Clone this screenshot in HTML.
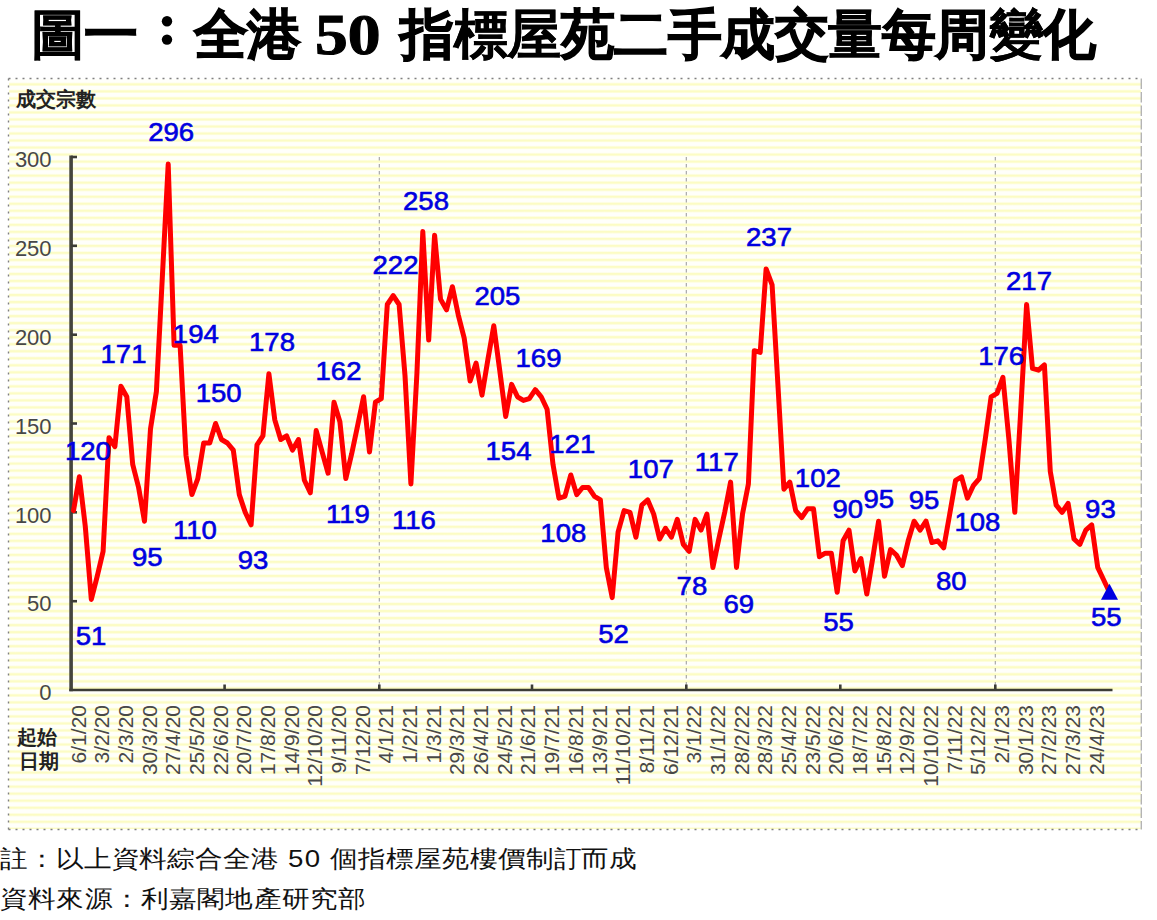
<!DOCTYPE html>
<html><head><meta charset="utf-8">
<style>
html,body{margin:0;padding:0;background:#fff;}
body{width:1157px;height:920px;position:relative;overflow:hidden;font-family:"Liberation Sans",sans-serif;}
.tt{position:absolute;top:2px;white-space:nowrap;font-family:"Liberation Serif",serif;font-weight:900;font-size:54px;line-height:66px;color:#000;-webkit-text-stroke:1.1px #000;}
#chart{position:absolute;left:0;top:0;}
.lt{-webkit-text-stroke:0.3px #000;}
.foot{position:absolute;left:0;white-space:nowrap;font-size:24px;letter-spacing:0px;color:#111;transform-origin:0 0;transform:scaleX(1.15);}
</style></head><body>
<div class="tt" style="left:31px;letter-spacing:-0.6px"><span class="lt">圖</span>一</div>
<div class="tt" style="left:194px;letter-spacing:-0.6px">全港</div>
<div class="tt" style="left:315px;top:2px;font-size:58px;transform-origin:0 0;transform:scaleX(1.13)">50</div>
<div class="tt" style="left:400px;letter-spacing:-0.5px">指<span class="lt">標屋</span>苑二手成交<span class="lt">量</span>每周<span class="lt">變</span>化</div>
<svg id="chart" width="1157" height="920" viewBox="0 0 1157 920">
<defs>
<linearGradient id="sg" x1="0" y1="0" x2="0" y2="1">
<stop offset="0.02" stop-color="#fffffa"/><stop offset="0.15" stop-color="#fcfcc4"/><stop offset="0.37" stop-color="#fcfcc4"/><stop offset="0.52" stop-color="#fffffa"/><stop offset="1" stop-color="#fffffa"/>
</linearGradient>
<pattern id="stripes" x="0" y="82.5" width="20" height="7.023" patternUnits="userSpaceOnUse">
<rect width="20" height="7.023" fill="url(#sg)"/>
</pattern>
</defs>
<rect x="9" y="79" width="1132" height="750" fill="url(#stripes)"/>
<circle cx="167" cy="21.3" r="5.2" fill="#000"/><circle cx="167" cy="39.6" r="5.2" fill="#000"/>
<g stroke="#808080" stroke-width="1.4" stroke-dasharray="2 5" fill="none">
<line x1="8.5" y1="78.5" x2="1141.5" y2="78.5"/>
<line x1="8.5" y1="78.5" x2="8.5" y2="829.5"/>
<line x1="8.5" y1="829.5" x2="1141.5" y2="829.5"/>
</g>
<line x1="1141.3" y1="78.5" x2="1141.3" y2="829.5" stroke="#b4b4b4" stroke-width="1.4" stroke-dasharray="10.5 3"/>
<text x="16" y="106" font-size="20" font-weight="bold" fill="#222">成交宗數</text>
<g font-size="22" fill="#474747" text-anchor="end">
<text x="51.6" y="700.2">0</text>
<text x="51.6" y="611.3">50</text>
<text x="51.6" y="522.5">100</text>
<text x="51.6" y="433.7">150</text>
<text x="51.6" y="344.8">200</text>
<text x="51.6" y="256.0">250</text>
<text x="51.6" y="167.2">300</text>
</g>
<g stroke="#a0a0a0" stroke-width="1.1" stroke-dasharray="3.5 3.5">
<line x1="379.3" y1="157" x2="379.3" y2="690"/>
<line x1="686.3" y1="157" x2="686.3" y2="690"/>
<line x1="995.3" y1="157" x2="995.3" y2="690"/>
</g>
<g stroke="#3c3c36" stroke-width="2.6" fill="none">
<line x1="71.1" y1="155.5" x2="71.1" y2="691.3" stroke-width="3.6" stroke="#45453d"/>
<line x1="69.3" y1="690" x2="1112.5" y2="690"/>
<line x1="71" y1="601.2" x2="77" y2="601.2"/>
<line x1="71" y1="512.3" x2="77" y2="512.3"/>
<line x1="71" y1="423.5" x2="77" y2="423.5"/>
<line x1="71" y1="334.7" x2="77" y2="334.7"/>
<line x1="71" y1="245.8" x2="77" y2="245.8"/>
<line x1="71" y1="157.0" x2="77" y2="157.0"/>
<line x1="379.3" y1="684.5" x2="379.3" y2="690"/>
<line x1="686.3" y1="684.5" x2="686.3" y2="690"/>
<line x1="995.3" y1="684.5" x2="995.3" y2="690"/>
<line x1="224.6" y1="684.5" x2="224.6" y2="690"/>
<line x1="532" y1="684.5" x2="532" y2="690"/>
<line x1="840.3" y1="684.5" x2="840.3" y2="690"/>
</g>
<polyline points="73.5,510.6 79.4,476.8 85.3,526.5 91.3,599.4 97.2,576.3 103.1,551.4 109.0,437.7 114.9,446.6 120.9,386.2 126.8,396.8 132.7,464.4 138.6,487.5 144.5,521.2 150.5,428.8 156.4,391.5 162.3,277.8 168.2,164.1 174.1,345.3 180.1,345.3 186.0,455.5 191.9,494.6 197.8,478.6 203.7,443.0 209.7,443.0 215.6,423.5 221.5,439.5 227.4,443.0 233.3,450.1 239.3,494.6 245.2,512.3 251.1,524.8 257.0,444.8 262.9,435.9 268.9,373.7 274.8,419.9 280.7,439.5 286.6,435.9 292.5,450.1 298.5,439.5 304.4,480.3 310.3,492.8 316.2,430.6 322.1,451.9 328.1,473.2 334.0,402.2 339.9,421.7 345.8,478.6 351.7,453.7 357.7,425.3 363.6,396.8 369.5,451.9 375.4,402.2 381.3,398.6 387.3,304.5 393.2,295.6 399.1,304.5 405.0,375.5 410.9,483.9 416.9,373.7 422.8,231.6 428.7,340.0 434.6,235.2 440.5,299.1 446.5,309.8 452.4,286.7 458.3,315.1 464.2,338.2 470.1,380.9 476.1,363.1 482.0,395.1 487.9,359.5 493.8,325.8 499.7,370.2 505.7,416.4 511.6,384.4 517.5,396.8 523.4,400.4 529.3,398.6 535.3,389.7 541.2,396.8 547.1,409.3 553.0,464.4 558.9,498.1 564.9,496.3 570.8,475.0 576.7,494.6 582.6,487.5 588.5,487.5 594.5,496.3 600.4,499.9 606.3,567.4 612.2,597.6 618.1,531.9 624.1,510.6 630.0,512.3 635.9,537.2 641.8,505.2 647.7,499.9 653.7,514.1 659.6,539.0 665.5,528.3 671.4,537.2 677.3,519.4 683.3,544.3 689.2,551.4 695.1,519.4 701.0,530.1 706.9,514.1 712.9,567.4 718.8,539.0 724.7,512.3 730.6,482.1 736.5,567.4 742.5,514.1 748.4,483.9 754.3,350.7 760.2,352.4 766.1,268.9 772.1,284.9 778.0,386.2 783.9,489.2 789.8,482.1 795.7,510.6 801.7,517.7 807.6,508.8 813.5,508.8 819.4,556.7 825.3,553.2 831.3,553.2 837.2,592.3 843.1,540.8 849.0,530.1 854.9,571.0 860.9,558.5 866.8,594.1 872.7,558.5 878.6,521.2 884.5,576.3 890.5,549.6 896.4,555.0 902.3,565.6 908.2,540.8 914.1,521.2 920.1,530.1 926.0,521.2 931.9,542.5 937.8,540.8 943.7,547.9 949.7,514.1 955.6,480.3 961.5,476.8 967.4,498.1 973.3,485.7 979.3,478.6 985.2,439.5 991.1,396.8 997.0,393.3 1002.9,377.3 1008.9,439.5 1014.8,512.3 1020.7,411.1 1026.6,304.5 1032.5,368.4 1038.5,370.2 1044.4,364.9 1050.3,471.5 1056.2,505.2 1062.1,512.3 1068.1,503.4 1074.0,539.0 1079.9,544.3 1085.8,530.1 1091.7,524.8 1097.7,567.4 1103.6,579.8 1109.5,592.3" fill="none" stroke="#ff0000" stroke-width="5" stroke-linejoin="round" stroke-linecap="round"/>
<g font-size="25.5" fill="#0000e0" stroke="#0000e0" stroke-width="0.6" text-anchor="middle">
<text x="0" y="0" transform="translate(87.9,460.1) scale(1.08,1)">120</text>
<text x="0" y="0" transform="translate(91.1,644.5) scale(1.08,1)">51</text>
<text x="0" y="0" transform="translate(123.5,363.1) scale(1.08,1)">171</text>
<text x="0" y="0" transform="translate(147.2,565.5) scale(1.08,1)">95</text>
<text x="0" y="0" transform="translate(171.1,140.7) scale(1.08,1)">296</text>
<text x="0" y="0" transform="translate(195.8,342.8) scale(1.08,1)">194</text>
<text x="0" y="0" transform="translate(195.0,538.5) scale(1.08,1)">110</text>
<text x="0" y="0" transform="translate(218.7,402.1) scale(1.08,1)">150</text>
<text x="0" y="0" transform="translate(253.0,569.1) scale(1.08,1)">93</text>
<text x="0" y="0" transform="translate(272.0,351.1) scale(1.08,1)">178</text>
<text x="0" y="0" transform="translate(338.5,379.9) scale(1.08,1)">162</text>
<text x="0" y="0" transform="translate(348.0,523.3) scale(1.08,1)">119</text>
<text x="0" y="0" transform="translate(414.0,529.1) scale(1.08,1)">116</text>
<text x="0" y="0" transform="translate(395.5,273.5) scale(1.08,1)">222</text>
<text x="0" y="0" transform="translate(426.0,210.1) scale(1.08,1)">258</text>
<text x="0" y="0" transform="translate(497.4,304.6) scale(1.08,1)">205</text>
<text x="0" y="0" transform="translate(508.5,459.8) scale(1.08,1)">154</text>
<text x="0" y="0" transform="translate(538.5,367.1) scale(1.08,1)">169</text>
<text x="0" y="0" transform="translate(563.3,542.4) scale(1.08,1)">108</text>
<text x="0" y="0" transform="translate(572.3,453.4) scale(1.08,1)">121</text>
<text x="0" y="0" transform="translate(613.6,642.8) scale(1.08,1)">52</text>
<text x="0" y="0" transform="translate(650.8,478.0) scale(1.08,1)">107</text>
<text x="0" y="0" transform="translate(691.9,594.9) scale(1.08,1)">78</text>
<text x="0" y="0" transform="translate(716.8,471.1) scale(1.08,1)">117</text>
<text x="0" y="0" transform="translate(738.8,613.0) scale(1.08,1)">69</text>
<text x="0" y="0" transform="translate(769.0,246.4) scale(1.08,1)">237</text>
<text x="0" y="0" transform="translate(817.8,487.0) scale(1.08,1)">102</text>
<text x="0" y="0" transform="translate(838.6,630.9) scale(1.08,1)">55</text>
<text x="0" y="0" transform="translate(847.7,517.9) scale(1.08,1)">90</text>
<text x="0" y="0" transform="translate(878.7,507.6) scale(1.08,1)">95</text>
<text x="0" y="0" transform="translate(924.0,508.9) scale(1.08,1)">95</text>
<text x="0" y="0" transform="translate(951.3,590.2) scale(1.08,1)">80</text>
<text x="0" y="0" transform="translate(977.4,530.8) scale(1.08,1)">108</text>
<text x="0" y="0" transform="translate(1001.2,365.4) scale(1.08,1)">176</text>
<text x="0" y="0" transform="translate(1029.0,289.9) scale(1.08,1)">217</text>
<text x="0" y="0" transform="translate(1100.4,518.3) scale(1.08,1)">93</text>
<text x="0" y="0" transform="translate(1106.2,625.9) scale(1.08,1)">55</text>
</g>
<polygon points="1109.5,583.8 1101.0,599.8 1118.0,599.8" fill="#0000e0"/>
<g font-size="21" fill="#484848" text-anchor="end">
<text transform="translate(85.5,705) rotate(-90)">6/1/20</text>
<text transform="translate(109.2,705) rotate(-90)">3/2/20</text>
<text transform="translate(132.9,705) rotate(-90)">2/3/20</text>
<text transform="translate(156.6,705) rotate(-90)">30/3/20</text>
<text transform="translate(180.2,705) rotate(-90)">27/4/20</text>
<text transform="translate(203.9,705) rotate(-90)">25/5/20</text>
<text transform="translate(227.6,705) rotate(-90)">22/6/20</text>
<text transform="translate(251.3,705) rotate(-90)">20/7/20</text>
<text transform="translate(275.0,705) rotate(-90)">17/8/20</text>
<text transform="translate(298.6,705) rotate(-90)">14/9/20</text>
<text transform="translate(322.3,705) rotate(-90)">12/10/20</text>
<text transform="translate(346.0,705) rotate(-90)">9/11/20</text>
<text transform="translate(369.7,705) rotate(-90)">7/12/20</text>
<text transform="translate(393.4,705) rotate(-90)">4/1/21</text>
<text transform="translate(417.0,705) rotate(-90)">1/2/21</text>
<text transform="translate(440.7,705) rotate(-90)">1/3/21</text>
<text transform="translate(464.4,705) rotate(-90)">29/3/21</text>
<text transform="translate(488.1,705) rotate(-90)">26/4/21</text>
<text transform="translate(511.8,705) rotate(-90)">24/5/21</text>
<text transform="translate(535.4,705) rotate(-90)">21/6/21</text>
<text transform="translate(559.1,705) rotate(-90)">19/7/21</text>
<text transform="translate(582.8,705) rotate(-90)">16/8/21</text>
<text transform="translate(606.5,705) rotate(-90)">13/9/21</text>
<text transform="translate(630.2,705) rotate(-90)">11/10/21</text>
<text transform="translate(653.8,705) rotate(-90)">8/11/21</text>
<text transform="translate(677.5,705) rotate(-90)">6/12/21</text>
<text transform="translate(701.2,705) rotate(-90)">3/1/22</text>
<text transform="translate(724.9,705) rotate(-90)">31/1/22</text>
<text transform="translate(748.6,705) rotate(-90)">28/2/22</text>
<text transform="translate(772.2,705) rotate(-90)">28/3/22</text>
<text transform="translate(795.9,705) rotate(-90)">25/4/22</text>
<text transform="translate(819.6,705) rotate(-90)">23/5/22</text>
<text transform="translate(843.3,705) rotate(-90)">20/6/22</text>
<text transform="translate(867.0,705) rotate(-90)">18/7/22</text>
<text transform="translate(890.6,705) rotate(-90)">15/8/22</text>
<text transform="translate(914.3,705) rotate(-90)">12/9/22</text>
<text transform="translate(938.0,705) rotate(-90)">10/10/22</text>
<text transform="translate(961.7,705) rotate(-90)">7/11/22</text>
<text transform="translate(985.4,705) rotate(-90)">5/12/22</text>
<text transform="translate(1009.0,705) rotate(-90)">2/1/23</text>
<text transform="translate(1032.7,705) rotate(-90)">30/1/23</text>
<text transform="translate(1056.4,705) rotate(-90)">27/2/23</text>
<text transform="translate(1080.1,705) rotate(-90)">27/3/23</text>
<text transform="translate(1103.8,705) rotate(-90)">24/4/23</text>
</g>
<text x="17" y="744" font-size="20" font-weight="bold" fill="#222">起始</text>
<text x="19" y="768" font-size="20" font-weight="bold" fill="#222">日期</text>
</svg>
<div class="foot" style="top:843px;letter-spacing:0.25px">註：以上資料綜合全港<span style="letter-spacing:1.2px"> 50 </span>個指標屋苑樓價制訂而成</div>
<div class="foot" style="top:883px;letter-spacing:0.5px">資料來源：利嘉閣地產研究部</div>
</body></html>
